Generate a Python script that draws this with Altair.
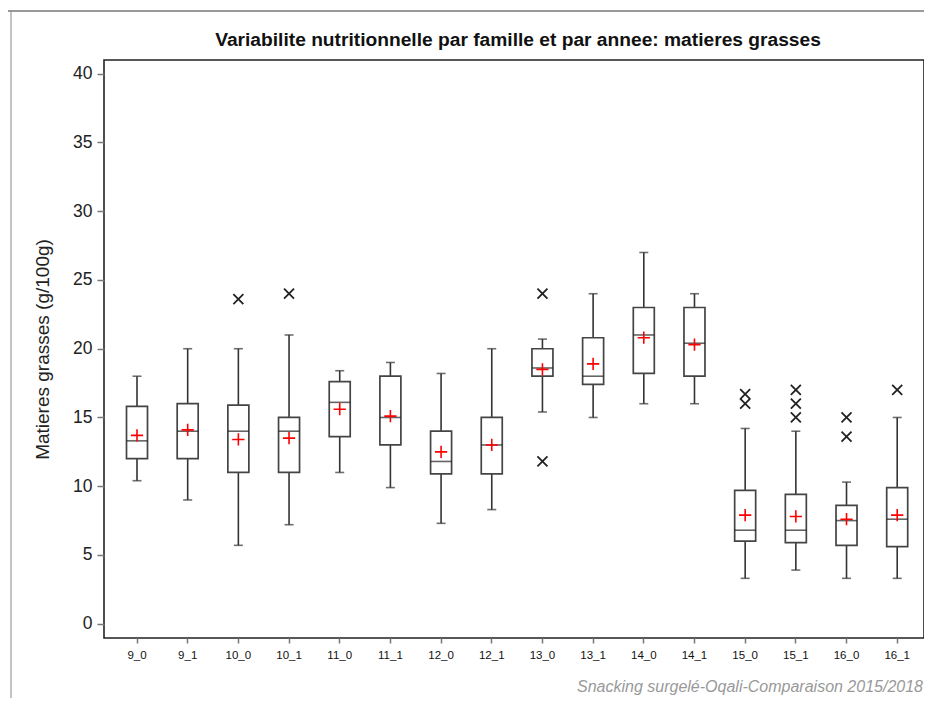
import altair as alt
import pandas as pd

categories = ["9_0", "9_1", "10_0", "10_1", "11_0", "11_1", "12_0", "12_1",
              "13_0", "13_1", "14_0", "14_1", "15_0", "15_1", "16_0", "16_1"]
whisker_low = [10.4, 9.0, 5.7, 7.2, 11.0, 9.9, 7.3, 8.3, 15.4, 15.0, 16.0, 16.0, 3.3, 3.9, 3.3, 3.3]
q1 = [12.0, 12.0, 11.0, 11.0, 13.6, 13.0, 10.9, 10.9, 18.0, 17.4, 18.2, 18.0, 6.0, 5.9, 5.7, 5.6]
median = [13.3, 14.0, 14.0, 14.0, 16.1, 15.0, 11.8, 13.0, 18.6, 18.0, 21.0, 20.4, 6.8, 6.8, 7.5, 7.6]
q3 = [15.8, 16.0, 15.9, 15.0, 17.6, 18.0, 14.0, 15.0, 20.0, 20.8, 23.0, 23.0, 9.7, 9.4, 8.6, 9.9]
whisker_high = [18.0, 20.0, 20.0, 21.0, 18.4, 19.0, 18.2, 20.0, 20.7, 24.0, 27.0, 24.0, 14.2, 14.0, 10.3, 15.0]
mean = [13.7, 14.1, 13.4, 13.5, 15.6, 15.1, 12.5, 13.0, 18.5, 18.9, 20.8, 20.3, 7.9, 7.8, 7.6, 7.9]

outlier_cats = ["10_0", "10_1", "13_0", "13_0", "15_0", "15_0", "15_1", "15_1", "15_1",
                "16_0", "16_0", "16_1"]
outlier_vals = [23.6, 24.0, 24.0, 11.8, 16.7, 16.0, 17.0, 16.0, 15.0, 15.0, 13.6, 17.0]

y_ticks = [0, 5, 10, 15, 20, 25, 30, 35, 40]
title_text = "Variabilite nutritionnelle par famille et par annee: matieres grasses"
y_title = "Matieres grasses (g/100g)"
footer_text = "Snacking surgelé-Oqali-Comparaison 2015/2018"

FONT = "Liberation Sans"
W, H = 820, 578

box_df = pd.DataFrame({
    "cat": categories, "lo": whisker_low, "q1": q1, "med": median,
    "q3": q3, "hi": whisker_high, "mean": mean,
})
out_df = pd.DataFrame({"cat": outlier_cats, "val": outlier_vals})
one = pd.DataFrame({"a": [0]})

xenc = alt.X("cat:N", sort=categories,
             scale=alt.Scale(domain=categories, paddingInner=0, paddingOuter=0.09, align=0.84),
             axis=alt.Axis(title=None, labelAngle=0, labelFontSize=11.5, labelColor="#111",
                           tickSize=5, tickColor="#777", tickWidth=1.5, labelPadding=6,
                           domain=False, grid=False, labelFont=FONT))
yscale = alt.Scale(domain=[-1.04, 41], nice=False, zero=False)
yaxis = alt.Axis(values=y_ticks, title=y_title, labelFontSize=17.5, labelColor="#222",
                 tickSize=7, tickColor="#777", tickWidth=1.5, labelPadding=5,
                 domain=False, grid=False, titleFontSize=19, titleFontWeight="normal",
                 titleColor="#222", titlePadding=20, labelFont=FONT, titleFont=FONT)

base = alt.Chart(box_df)

whisk = base.mark_rule(color="#333", strokeWidth=1.6).encode(
    x=xenc, y=alt.Y("lo:Q", scale=yscale, axis=yaxis), y2="hi:Q")
cap_lo = base.mark_tick(size=9, thickness=1.6, color="#333", orient="horizontal").encode(
    x=xenc, y=alt.Y("lo:Q", scale=yscale))
cap_hi = base.mark_tick(size=9, thickness=1.6, color="#333", orient="horizontal").encode(
    x=xenc, y=alt.Y("hi:Q", scale=yscale))
box = base.mark_bar(size=21, fill="white", stroke="#444", strokeWidth=1.7).encode(
    x=xenc, y=alt.Y("q1:Q", scale=yscale), y2="q3:Q")
med = base.mark_tick(size=21, thickness=1.6, color="#222", orient="horizontal").encode(
    x=xenc, y=alt.Y("med:Q", scale=yscale))
mn = base.mark_point(shape="M-1,0L1,0M0,-1L0,1", size=150, color="#ff0000",
                     filled=False, strokeWidth=1.6, opacity=1).encode(
    x=xenc, y=alt.Y("mean:Q", scale=yscale))
outl = alt.Chart(out_df).mark_point(shape="M-1,-1L1,1M-1,1L1,-1", size=100, color="#222",
                                    filled=False, strokeWidth=1.8, opacity=1).encode(
    x=xenc, y=alt.Y("val:Q", scale=yscale))

border_top = alt.Chart(one).mark_rule(color="#777", strokeWidth=1.5).encode(
    x=alt.value(-110), x2=alt.value(840), y=alt.value(-49))
border_left = alt.Chart(one).mark_rule(color="#888", strokeWidth=1).encode(
    x=alt.value(-93), y=alt.value(-49), y2=alt.value(660))
title_mark = alt.Chart(one).mark_text(text=title_text, align="center", baseline="middle",
                                      fontWeight="bold", fontSize=19.2, color="#111",
                                      font=FONT).encode(
    x=alt.value(414), y=alt.value(-20))
footer = alt.Chart(one).mark_text(text=footer_text, align="right", baseline="middle",
                                  fontStyle="italic", fontSize=16, color="#999",
                                  font=FONT).encode(
    x=alt.value(W - 1), y=alt.value(627))

chart = alt.layer(border_top, border_left, title_mark, whisk, cap_lo, cap_hi, box, med, mn,
                  outl, footer).properties(
    width=W, height=H,
    autosize=alt.AutoSizeParams(type="none"),
    padding={"left": 96, "top": 52, "right": 0, "bottom": 60},
).configure_view(stroke="#222", strokeWidth=1.6)

chart.save("out.html", embed_options={"renderer": "svg", "actions": False})
